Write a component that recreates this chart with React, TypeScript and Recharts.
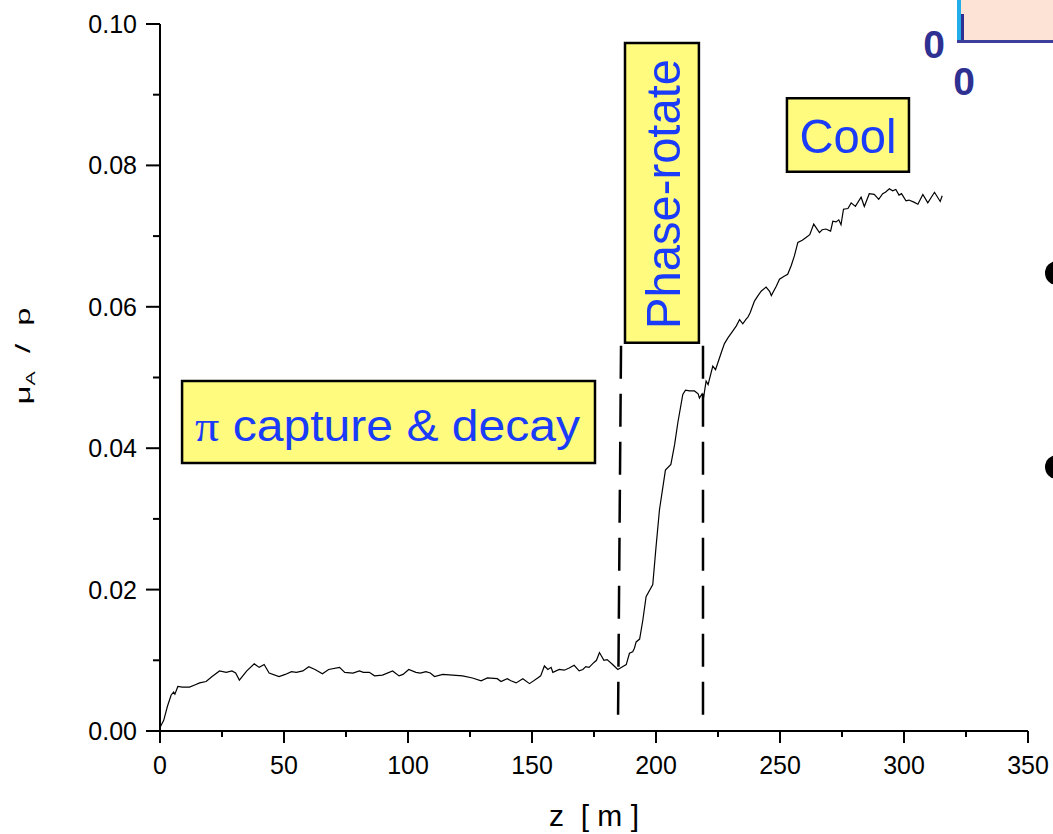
import React from 'react';
import { LineChart, Line, XAxis, YAxis, ReferenceLine, ReferenceArea } from 'recharts';

// ---- data ----
const zValues = [
  0, 1.5, 3, 4.5, 5.5, 6, 7.2, 9, 11.9, 14, 16, 18.6, 21, 24, 26.7, 29, 30.5, 32, 35, 38,
  40, 42, 44, 48, 50.5, 53, 55, 57.6, 60, 62.5, 65.5, 68, 72.4, 74.5, 77.8, 80.4, 82, 84.4, 86.5, 89.7,
  93.8, 96.4, 98, 100.3, 103.2, 105, 107.2, 109, 110.7, 114, 118, 122, 126, 129.5, 132, 136, 137.5, 140, 141.5, 143.6,
  146.3, 149, 152.3, 153.5, 155, 156.4, 157.7, 158.4, 161, 163, 165, 167, 169, 170.5, 171.7, 173, 175, 176, 177.2, 179,
  180.3, 182.5, 184.6, 186.5, 188, 189.3, 190.6, 191.3, 192, 193.4, 194.7, 196, 198.7, 200, 201.4, 203.8, 206, 207.5, 208.8, 210.8,
  211.9, 213.5, 215.5, 217, 217.5, 218.6, 219.2, 220.2, 221, 222.9, 224, 226.3, 227.6, 229, 231, 232.4, 233.7, 235, 236.4, 237,
  238, 239.7, 241, 242.4, 244.4, 245.8, 246.5, 248.5, 249.8, 251.5, 253.1, 254.5, 255.8, 257.2, 259, 260.5, 262, 263.6, 265.9, 267,
  268.5, 270.4, 271.3, 272.6, 273.7, 274.6, 275.6, 277.4, 278.7, 280.4, 282.7, 284, 286, 288, 289.8, 291.4, 292.5, 294.1, 295.4, 296.7,
  298, 299, 300.8, 302, 304, 305.6, 307.6, 309.6, 312.3, 314.6, 315.4,
];
const muValues = [
  0.0005, 0.0015, 0.0035, 0.0051, 0.0055, 0.0052, 0.0063, 0.0062, 0.0062, 0.0065, 0.0068, 0.0070, 0.0077, 0.0085, 0.0083, 0.0085, 0.0082, 0.0072, 0.0085, 0.0095,
  0.0090, 0.0094, 0.0082, 0.0077, 0.0080, 0.0084, 0.0083, 0.0085, 0.0091, 0.0087, 0.0081, 0.0087, 0.0090, 0.0083, 0.0082, 0.0085, 0.0083, 0.0083, 0.0078, 0.0079,
  0.0085, 0.0078, 0.0080, 0.0087, 0.0083, 0.0082, 0.0084, 0.0082, 0.0077, 0.0080, 0.0079, 0.0078, 0.0075, 0.0071, 0.0075, 0.0074, 0.0070, 0.0074, 0.0071, 0.0068,
  0.0074, 0.0067, 0.0075, 0.0078, 0.0092, 0.0087, 0.0090, 0.0083, 0.0087, 0.0086, 0.0089, 0.0093, 0.0085, 0.0087, 0.0091, 0.0090, 0.0097, 0.0100, 0.0111, 0.0100,
  0.0101, 0.0094, 0.0087, 0.0091, 0.0094, 0.0110, 0.0112, 0.0117, 0.0126, 0.0130, 0.0157, 0.0190, 0.0207, 0.0260, 0.0313, 0.0369, 0.0377, 0.0405, 0.0436, 0.0476,
  0.0482, 0.0481, 0.0481, 0.0477, 0.0471, 0.0477, 0.0472, 0.0495, 0.0490, 0.0516, 0.0511, 0.0535, 0.0548, 0.0556, 0.0566, 0.0573, 0.0582, 0.0576, 0.0583, 0.0585,
  0.0592, 0.0608, 0.0615, 0.0622, 0.0628, 0.0622, 0.0616, 0.0629, 0.0639, 0.0643, 0.0646, 0.0658, 0.0672, 0.0691, 0.0694, 0.0698, 0.0702, 0.0717, 0.0705, 0.0709,
  0.0710, 0.0707, 0.0721, 0.0720, 0.0723, 0.0716, 0.0738, 0.0739, 0.0747, 0.0742, 0.0755, 0.0742, 0.0760, 0.0759, 0.0752, 0.0760, 0.0762, 0.0767, 0.0764, 0.0766,
  0.0758, 0.0760, 0.0750, 0.0751, 0.0748, 0.0745, 0.0759, 0.0747, 0.0762, 0.0749, 0.0757,
];

const xTicks = [0, 25, 50, 75, 100, 125, 150, 175, 200, 225, 250, 275, 300, 325, 350];
const xMajorTicks = [0, 50, 100, 150, 200, 250, 300, 350];
const yTicks = [0, 0.01, 0.02, 0.03, 0.04, 0.05, 0.06, 0.07, 0.08, 0.09, 0.1];
const yMajorTicks = [0, 0.02, 0.04, 0.06, 0.08, 0.1];

// stage boundaries (dashed lines): [z at top, z at bottom]
const stageLineTopZ = [185.9, 218.95];
const stageLineBottomZ = [184.7, 218.95];
const stageLineTopMu = 0.0545;
const stageLineBottomMu = 0.002;

// annotation boxes
const boxLabels = ['capture & decay', 'Phase-rotate', 'Cool'];
const boxZ1 = [8.9, 187.5, 252.8];
const boxZ2 = [175.4, 217.3, 302.0];
const boxMu1 = [0.0379, 0.0549, 0.0791];
const boxMu2 = [0.0495, 0.0973, 0.0895];

const data = zValues.map((z, i) => ({ z, mu: muValues[i] }));

const FONT = '"Liberation Sans", Arial, Helvetica, sans-serif';
const BLUE = '#1a3cf8';
const YELLOW = '#fffb7e';

const XTick = (props: any) => {
  const { x, y, payload } = props;
  const v = payload.value;
  const major = xMajorTicks.includes(v);
  return (
    <g>
      <line x1={x} x2={x} y1={y} y2={y + (major ? 12 : 6)} stroke="#000" strokeWidth={2} />
      {major && (
        <text x={x} y={y + 43} textAnchor="middle" fontSize={25} fontFamily={FONT} fill="#000">
          {v}
        </text>
      )}
    </g>
  );
};

const YTick = (props: any) => {
  const { x, y, payload } = props;
  const v = payload.value;
  const major = yMajorTicks.some((m) => Math.abs(m - v) < 1e-9);
  return (
    <g>
      <line x1={x - (major ? 14 : 7)} x2={x} y1={y} y2={y} stroke="#000" strokeWidth={2} />
      {major && (
        <text x={x - 23} y={y + 9} textAnchor="end" fontSize={25} fontFamily={FONT} fill="#000">
          {v.toFixed(2)}
        </text>
      )}
    </g>
  );
};

const boxText = (i: number) => (props: any) => {
  const vb = props.viewBox || {};
  const { x, y, width, height } = vb;
  if (i === 0) {
    return (
      <text x={x + 13} y={y + 60} fontSize={44} fontFamily={FONT} fill={BLUE} textLength={385} lengthAdjust="spacingAndGlyphs">
        <tspan fontFamily='"Liberation Serif", "Times New Roman", serif'>π</tspan>
        <tspan> {boxLabels[0]}</tspan>
      </text>
    );
  }
  if (i === 1) {
    const cx = x + width / 2;
    const cy = y + height / 2;
    return (
      <text
        transform={`translate(${cx + 18},${cy + 1}) rotate(-90)`}
        textAnchor="middle"
        fontSize={49}
        fontFamily={FONT}
        fill={BLUE}
        textLength={270}
        lengthAdjust="spacingAndGlyphs"
      >
        {boxLabels[1]}
      </text>
    );
  }
  return (
    <text x={x + width / 2} y={y + 55} textAnchor="middle" fontSize={49} fontFamily={FONT} fill={BLUE} textLength={97} lengthAdjust="spacingAndGlyphs">
      {boxLabels[2]}
    </text>
  );
};

const XLabel = (props: any) => {
  const vb = props.viewBox || {};
  const cx = vb.x + vb.width / 2;
  return (
    <text x={cx} y={vb.y + 95} textAnchor="middle" fontSize={30} fontFamily={FONT} fill="#000" style={{ whiteSpace: 'pre' }}>
      {'z  [ m ]'}
    </text>
  );
};

const YLabelRot = (props: any) => {
  const vb = props.viewBox || {};
  const cy = vb.y + vb.height / 2 - 21;
  return (
    <g transform={`translate(30,${cy}) rotate(-90)`}>
      <text
        x={-48}
        y={0}
        fontSize={20}
        fontFamily={FONT}
        fill="#000"
        style={{ whiteSpace: 'pre' }}
        textLength={97}
        lengthAdjust="spacingAndGlyphs"
      >
        <tspan>μ</tspan>
        <tspan fontSize={13} dy={5}>A</tspan>
        <tspan dy={-5}>{'  /  p'}</tspan>
      </text>
    </g>
  );
};

export default function App() {
  return (
    <div style={{ position: 'absolute', left: 0, top: 0, width: 1053, height: 834, background: '#fff' }}>
      <LineChart
        width={1053}
        height={834}
        data={data}
        margin={{ top: 24, right: 25, left: 0, bottom: 0 }}
      >
        <XAxis
          dataKey="z"
          type="number"
          domain={[0, 350]}
          ticks={xTicks}
          interval={0}
          height={103}
          tickSize={0}
          tickMargin={0}
          tickLine={false}
          axisLine={{ stroke: '#000', strokeWidth: 2 }}
          tick={<XTick />}
          label={<XLabel />}
        />
        <YAxis
          type="number"
          domain={[0, 0.1]}
          ticks={yTicks}
          interval={0}
          width={160}
          tickSize={0}
          tickMargin={0}
          tickLine={false}
          axisLine={{ stroke: '#000', strokeWidth: 2 }}
          tick={<YTick />}
          label={<YLabelRot />}
        />
        {boxLabels.map((_, i) => (
          <ReferenceArea
            key={i}
            x1={boxZ1[i]}
            x2={boxZ2[i]}
            y1={boxMu1[i]}
            y2={boxMu2[i]}
            fill={YELLOW}
            fillOpacity={1}
            stroke="#000"
            strokeWidth={2.5}
            label={boxText(i)}
          />
        ))}
        {stageLineTopZ.map((zt, i) => (
          <ReferenceLine
            key={'s' + i}
            segment={[
              { x: zt, y: stageLineTopMu },
              { x: stageLineBottomZ[i], y: stageLineBottomMu },
            ]}
            stroke="#000"
            strokeWidth={2.5}
            strokeDasharray="33 15"
          />
        ))}
        <Line
          type="linear"
          dataKey="mu"
          stroke="#000"
          strokeWidth={1.2}
          dot={false}
          isAnimationActive={false}
        />
      </LineChart>
      <svg width={1053} height={834} style={{ position: 'absolute', left: 0, top: 0, pointerEvents: 'none' }}>
        <rect x={957} y={0} width={96} height={42} fill="#fde2d6" />
        <rect x={957} y={0} width={4} height={41} fill="#22aee8" />
        <rect x={961} y={14} width={3} height={28} fill="#2e3192" />
        <line x1={957} x2={1053} y1={41.5} y2={41.5} stroke="#3b3f9a" strokeWidth={3} />
        <text x={934} y={58} textAnchor="middle" fontSize={39} fontWeight="bold" fontFamily={FONT} fill="#2e3192">0</text>
        <text x={964} y={95} textAnchor="middle" fontSize={39} fontWeight="bold" fontFamily={FONT} fill="#2e3192">0</text>
        <circle cx={1057} cy={273} r={12} fill="#000" />
        <circle cx={1057} cy={467} r={12} fill="#000" />
      </svg>
    </div>
  );
}
